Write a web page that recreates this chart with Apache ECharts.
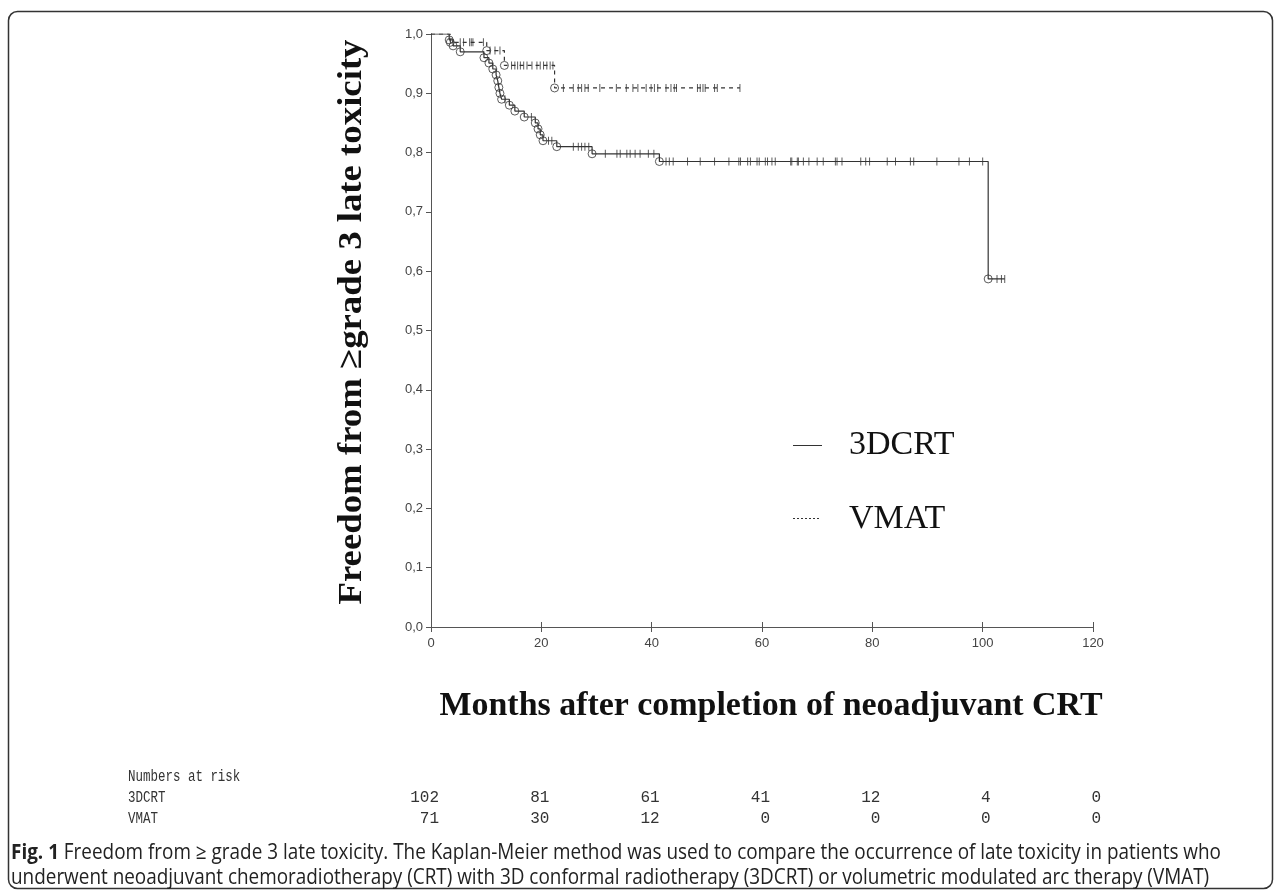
<!DOCTYPE html>
<html>
<head>
<meta charset="utf-8">
<style>
    html, body {
        margin: 0;
        height: 100%;
        background: #fff;
        overflow: hidden;
    }
    #chart {
        width: 1281px;
        height: 893px;
    }
</style>
<script src="https://cdn.jsdelivr.net/npm/echarts@6/dist/echarts.min.js"></script>
</head>
<body>
<div id="chart"></div>
<script>
// 3DCRT curve: time of each step (months) and survival right after it
var crtTimes = [0, 3.3, 4.0, 5.3, 9.6, 10.5, 11.2, 11.8, 12.1, 12.3, 12.5, 12.8, 14.2, 15.2, 16.9, 18.9, 19.4, 19.8, 20.3, 22.8, 29.2, 41.4, 101.0, 104.0];
var crtSurv  = [1, 0.990, 0.980, 0.970, 0.960, 0.951, 0.941, 0.931, 0.921, 0.910, 0.900, 0.890, 0.880, 0.870, 0.860, 0.850, 0.840, 0.830, 0.820, 0.810, 0.798, 0.785, 0.587, 0.587];
// censored patients (the little + marks)
var crtCensor = [13.4, 18.2, 21.3, 21.9, 25.8, 26.7, 27.3, 27.9, 28.6, 31.6, 33.7, 34.3, 35.5, 36.1, 37.0, 37.9, 39.4, 40.4,
    42.6, 43.2, 43.9, 46.5, 48.8, 51.4, 54.0, 55.8, 56.1, 57.4, 57.9, 59.1, 59.5, 60.6, 61.0, 61.8, 62.4, 65.2, 65.4, 66.4, 66.6,
    67.5, 68.5, 70.0, 71.1, 73.3, 73.6, 74.5, 77.9, 78.8, 79.5, 82.7, 84.2, 86.9, 87.5, 91.7, 95.7, 97.6, 100.0, 102.6, 103.4, 104.0];

// VMAT curve
var vmatTimes = [0, 3.5, 10.1, 13.3, 22.4, 56.0];
var vmatSurv  = [1, 0.986, 0.972, 0.947, 0.909, 0.909];
var vmatCensor = [5.3, 5.9, 7.0, 7.3, 7.6, 9.5, 10.7, 11.6, 12.5, 14.6, 15.2, 15.7, 16.2, 16.8, 17.4, 18.3, 19.2, 19.8, 20.4, 21.0, 21.6, 22.1,
    24.0, 25.8, 26.7, 27.3, 27.9, 28.5, 30.6, 33.6, 35.4, 36.6, 37.5, 39.0, 39.9, 40.5, 41.1, 42.6, 43.5, 44.1, 44.5, 48.3, 48.8, 49.3, 49.7, 51.4, 51.9, 56.0];

// numbers at risk table
var riskTimes = [0, 20, 40, 60, 80, 100, 120];
var risk3dcrt = [102, 81, 61, 41, 12, 4, 0];
var riskVmat  = [71, 30, 12, 0, 0, 0, 0];

var captionLine1 = ' Freedom from \u2265 grade 3 late toxicity. The Kaplan-Meier method was used to compare the occurrence of late toxicity in patients who';
var captionLine2 = 'underwent neoadjuvant chemoradiotherapy (CRT) with 3D conformal radiotherapy (3DCRT) or volumetric modulated arc therapy (VMAT)';

var ink = '#333';
var serif = '"Liberation Serif", "Times New Roman", serif';

function survAt(times, surv, t) {
    var s = surv[0];
    for (var i = 0; i < times.length; i++) {
        if (times[i] <= t) s = surv[i];
    }
    return s;
}
function stepData(times, surv) {
    return times.map(function (t, i) { return [t, surv[i]]; });
}
function eventData(times, surv) {
    // circles at every drop, not at the start and end points
    return times.slice(1, times.length - 1).map(function (t, i) { return [t, surv[i + 1]]; });
}
function censorData(cens, times, surv) {
    return cens.map(function (t) { return [t, survAt(times, surv, t)]; });
}

var ctx = document.createElement('canvas').getContext('2d');
function textWidth(font, txt) {
    ctx.font = font;
    return ctx.measureText(txt).width;
}

var chart = echarts.init(document.getElementById('chart'));

var axisLineStyle = { color: '#555', width: 1 };
var option = {
    animation: false,
    backgroundColor: '#fff',
    grid: { left: 431, right: 188, top: 34, bottom: 266 },
    xAxis: [{
        type: 'value', min: 0, max: 120, interval: 20, position: 'bottom',
        axisLine: { show: true, lineStyle: axisLineStyle },
        axisTick: { show: true, inside: true, length: 5, lineStyle: axisLineStyle },
        axisLabel: { color: '#444', fontSize: 13, fontFamily: 'Liberation Sans', margin: 10 },
        splitLine: { show: false }
    }, {
        type: 'value', min: 0, max: 120, interval: 20, position: 'top',
        axisLine: { show: true, lineStyle: axisLineStyle },
        axisTick: { show: true, inside: true, length: 5, lineStyle: axisLineStyle },
        axisLabel: { show: false },
        splitLine: { show: false }
    }],
    yAxis: [{
        type: 'value', min: 0, max: 1, interval: 0.1, position: 'left',
        axisLine: { show: true, lineStyle: axisLineStyle },
        axisTick: { show: true, inside: false, length: 4, lineStyle: axisLineStyle },
        axisLabel: {
            color: '#444', fontSize: 13, fontFamily: 'Liberation Sans', margin: 8,
            formatter: function (v) { return v.toFixed(1).replace('.', ','); }
        },
        splitLine: { show: false }
    }, {
        type: 'value', min: 0, max: 1, interval: 0.1, position: 'right',
        axisLine: { show: true, lineStyle: axisLineStyle },
        axisTick: { show: true, inside: true, length: 5, lineStyle: axisLineStyle },
        axisLabel: { show: false },
        splitLine: { show: false }
    }],
    series: [
        {
            name: '3DCRT', type: 'line', step: 'end', showSymbol: false, silent: true,
            data: stepData(crtTimes, crtSurv),
            lineStyle: { color: ink, width: 1.2, type: 'solid' }
        },
        {
            name: 'VMAT', type: 'line', step: 'end', showSymbol: false, silent: true,
            data: stepData(vmatTimes, vmatSurv),
            lineStyle: { color: ink, width: 1.2, type: [4, 4] }
        },
        {
            type: 'scatter', silent: true, symbol: 'circle', symbolSize: 8,
            data: eventData(crtTimes, crtSurv).concat(eventData(vmatTimes, vmatSurv)),
            itemStyle: { color: 'rgba(0,0,0,0)', borderColor: ink, borderWidth: 1 },
            z: 3
        },
        {
            type: 'scatter', silent: true, symbol: 'rect', symbolSize: [1, 8],
            data: censorData(crtCensor, crtTimes, crtSurv).concat(censorData(vmatCensor, vmatTimes, vmatSurv)),
            itemStyle: { color: ink },
            z: 3
        }
    ]
};
chart.setOption(option);

// axis titles in bold serif, stretched to the length they have in the figure
var yTitle = 'Freedom from \u2265grade 3 late toxicity';
var yTitleFont = 'bold 34px ' + serif;
var yTitleScale = 565 / textWidth(yTitleFont, yTitle);
var xTitle = 'Months after completion of neoadjuvant CRT';
var xTitleFont = 'bold 34px ' + serif;
var xTitleScale = 663 / textWidth(xTitleFont, xTitle);

var graphics = [
    {
        type: 'rect', silent: true,
        shape: { x: 8.5, y: 11.5, width: 1264, height: 877, r: 9 },
        style: { fill: 'none', stroke: '#333', lineWidth: 1.5 }
    },
    {
        type: 'text', x: 352, y: 322, rotation: Math.PI / 2, scaleX: yTitleScale, silent: true,
        style: { text: yTitle, font: yTitleFont, fill: '#111', align: 'center', verticalAlign: 'middle' }
    },
    {
        type: 'text', x: 771, y: 706, scaleX: xTitleScale, silent: true,
        style: { text: xTitle, font: xTitleFont, fill: '#111', align: 'center', verticalAlign: 'middle' }
    },
    // legend
    { type: 'line', silent: true, shape: { x1: 793, y1: 445.5, x2: 822, y2: 445.5 }, style: { stroke: ink, lineWidth: 1 } },
    { type: 'text', x: 849, y: 445, silent: true, style: { text: '3DCRT', font: '34px ' + serif, fill: '#111', verticalAlign: 'middle' } },
    { type: 'line', silent: true, shape: { x1: 793, y1: 518.5, x2: 821, y2: 518.5 }, style: { stroke: ink, lineWidth: 1, lineDash: [2, 2] } },
    { type: 'text', x: 849, y: 519, silent: true, style: { text: 'VMAT', font: '34px ' + serif, fill: '#111', verticalAlign: 'middle' } }
];

var mono = '16px "Liberation Mono", "Courier New", monospace';
var labelScale = 0.78;
graphics.push({ type: 'text', x: 128, y: 777, scaleX: labelScale, silent: true, style: { text: 'Numbers at risk', font: mono, fill: ink, verticalAlign: 'middle' } });
graphics.push({ type: 'text', x: 128, y: 798, scaleX: labelScale, silent: true, style: { text: '3DCRT', font: mono, fill: ink, verticalAlign: 'middle' } });
graphics.push({ type: 'text', x: 128, y: 819, scaleX: labelScale, silent: true, style: { text: 'VMAT', font: mono, fill: ink, verticalAlign: 'middle' } });
riskTimes.forEach(function (t, i) {
    var px = chart.convertToPixel({ xAxisIndex: 0 }, t) + 8;
    graphics.push({ type: 'text', x: px, y: 798, silent: true, style: { text: String(risk3dcrt[i]), font: mono, fill: ink, align: 'right', verticalAlign: 'middle' } });
    graphics.push({ type: 'text', x: px, y: 819, silent: true, style: { text: String(riskVmat[i]), font: mono, fill: ink, align: 'right', verticalAlign: 'middle' } });
});

// caption in a condensed sans: squeeze Open Sans horizontally to the width of the original lines
var capFont = '21px "Open Sans", "Noto Sans", sans-serif';
var capBold = 'bold 21px "Open Sans", "Noto Sans", sans-serif';
var w1 = textWidth(capBold, 'Fig. 1') + textWidth(capFont, captionLine1);
var capScale = 1210 / w1;
graphics.push({
    type: 'text', x: 11, y: 853, scaleX: capScale, silent: true,
    style: {
        text: '{b|Fig. 1}' + captionLine1, font: capFont, fill: '#222', verticalAlign: 'middle',
        rich: { b: { font: capBold, fill: '#222' } }
    }
});
graphics.push({
    type: 'text', x: 11, y: 878, scaleX: capScale, silent: true,
    style: { text: captionLine2, font: capFont, fill: '#222', verticalAlign: 'middle' }
});

chart.setOption({ graphic: graphics });
</script>
</body>
</html>
